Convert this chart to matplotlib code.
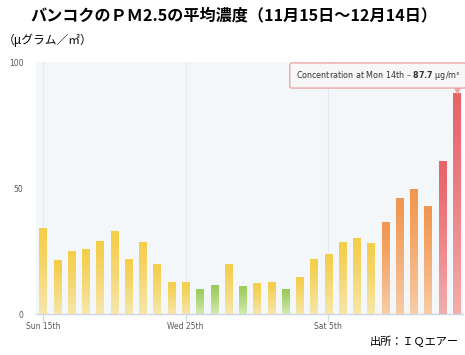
import numpy as np
import matplotlib
matplotlib.use("Agg")
import matplotlib.pyplot as plt
from matplotlib.colors import to_rgb

plt.rcParams['font.family'] = ['Noto Sans CJK JP', 'DejaVu Sans']

# Data: daily PM2.5 (µg/m³), Nov 15 – Dec 14
days = list(range(30))
values = [34.1, 21.3, 25.1, 25.9, 28.8, 32.8, 22.0, 28.6, 20.0, 12.7,
          12.7, 10.1, 11.5, 20.0, 11.0, 12.3, 12.7, 9.8, 14.6, 22.0,
          23.7, 28.4, 30.3, 28.2, 36.5, 45.9, 49.6, 43.0, 60.7, 87.7]
tick_pos = [0, 10, 20]
tick_labels = ["Sun 15th", "Wed 25th", "Sat 5th"]
ytick_vals = [0, 50, 100]

title = "バンコクのＰＭ2.5の平均濃度（11月15日～12月14日）"
unit = "（μグラム／㎡）"
source = "出所：ＩＱエアー"


def cat_colors(v):
    if v <= 12.0:
        return "#9bcb58", "#d3e9b2"
    if v <= 35.4:
        return "#f4cd48", "#f6e6ac"
    if v <= 55.4:
        return "#f1964f", "#f8cca6"
    return "#e8636a", "#f2adad"


fig = plt.figure(figsize=(4.65, 3.55), dpi=100)
fig.patch.set_facecolor("white")
ax = fig.add_axes([36/465, 1-314/355, 427/465, 252/355])
ax.set_facecolor("#f4f7f9")

bw = 0.52
bars = ax.bar(days, values, width=bw, facecolor="none", edgecolor="none")
for b, v in zip(bars, values):
    top, bot = cat_colors(v)
    t = np.array(to_rgb(top)); bo = np.array(to_rgb(bot))
    n = 64
    frac = np.linspace(0, 1, n)[:, None] ** 1.2
    grad = (t * (1 - frac) + bo * frac)[:, None, :]
    x0 = b.get_x()
    im = ax.imshow(grad, extent=[x0, x0 + b.get_width(), 0, b.get_height()],
                   aspect="auto", origin="upper", zorder=3, interpolation="bilinear")
    im.set_clip_path(b)

ax.set_xlim(-0.5, 29.45)
ax.set_ylim(0, 100)
ax.set_xticks(tick_pos)
ax.set_xticklabels(tick_labels, fontsize=5.5, color="#555555", family=['DejaVu Sans'])
ax.set_yticks(ytick_vals)
ax.set_yticklabels([str(v) for v in ytick_vals], fontsize=5.5, color="#555555", family=['DejaVu Sans'])
ax.tick_params(axis="y", length=0, pad=9)
ax.tick_params(axis="x", length=5, color="#ccd6e0", pad=1)
for p in tick_pos:
    ax.axvline(p, color="#e3e9ee", lw=0.8, zorder=1)
for s in ["top", "right", "left"]:
    ax.spines[s].set_visible(False)
ax.spines["bottom"].set_color("#ccd6e0")
ax.spines["bottom"].set_linewidth(1.0)

# Tooltip
last = len(values) - 1
ax.plot([last], [values[last] + 1.2], marker="v", ms=5, color="#eea5a8", zorder=4, clip_on=False)
fig.text(378/465, 1-75.5/355,
         "Concentration at Mon 14th – $\\mathbf{87.7}$ µg/m³",
         fontsize=5.8, color="#333333", ha="center", va="center", family=['DejaVu Sans'],
         bbox=dict(boxstyle="round,pad=0.75,rounding_size=0.3", fc="#f7f7f7", ec="#eea5a8", lw=1.0))

fig.text(234/465, 1-15/355, title, fontsize=11.6, fontweight="bold", ha="center", va="center")
fig.text(3/465, 1-40/355, unit, fontsize=8.5, ha="left", va="center")
fig.text(459/465, 1-341/355, source, fontsize=8, ha="right", va="center")

fig.savefig("out.png", dpi=100, facecolor="white")
